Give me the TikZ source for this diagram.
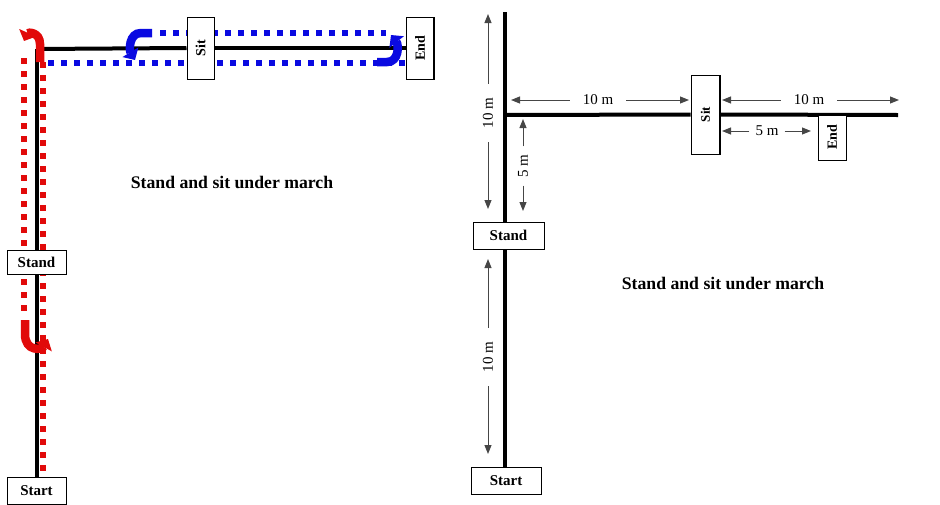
\documentclass[tikz,border=0pt]{standalone}
\usepackage{fontspec}
\setmainfont{Liberation Serif}
\usetikzlibrary{arrows.meta}
\definecolor{rd}{RGB}{225,10,10}
\definecolor{bl}{RGB}{10,10,225}
\definecolor{dimgray}{RGB}{70,70,70}
\tikzset{
  track/.style={line width=4pt,black},
  box/.style={draw,fill=white,line width=1pt,inner sep=0pt,font=\bfseries},
  rdots/.style={rd,line width=6pt,dash pattern=on 6pt off 7pt},
  bdots/.style={bl,line width=6pt,dash pattern=on 6pt off 7pt},
  turnR/.style={rd,line width=8.5pt,-{Triangle[length=9pt,width=18pt]}},
  turnB/.style={bl,line width=8.5pt,-{Triangle[length=9pt,width=18pt]}},
  dim/.style={dimgray,line width=1pt,-{Triangle[length=9pt,width=7pt]}},
  dimlab/.style={font=\fontsize{15}{15}\selectfont,inner sep=0pt},
  title/.style={font=\fontsize{17.7}{18}\selectfont\bfseries}
}
\begin{document}
\begin{tikzpicture}[x=1pt,y=-1pt]
\useasboundingbox (0,0) rectangle (940,504);
% ---------------- left diagram ----------------
\coordinate (Lc) at (37,49);
\node[box,minimum width=59,minimum height=24,font=\fontsize{15}{15}\selectfont\bfseries] (Lstand) at (36.5,262) {Stand};
\node[box,minimum width=59,minimum height=27,font=\fontsize{15}{15}\selectfont\bfseries] (Lstart) at (36.5,491) {Start};
\node[box,rotate=90,minimum width=62,minimum height=27,font=\fontsize{14}{14}\selectfont\bfseries] (Lsit) at (200.5,48) {Sit};
\node[box,rotate=90,minimum width=62,minimum height=28,font=\fontsize{14}{14}\selectfont\bfseries] (Lend) at (420,48) {End};
\draw[track] (Lc) -- (Lstart.north -| Lc);
\draw[track] (Lc) -- (Lsit.north);
\draw[track] (Lsit.south) -- (Lend.north);
% dotted paths
\draw[rdots] (24,58) -- (24,314);
\draw[rdots] (43,62) -- (43,474);
\draw[bdots] (160,33) -- (386,33);
\draw[bdots] (48,63) -- (405,63);
% boxes on top
\node[box,minimum width=59,minimum height=24,font=\fontsize{15}{15}\selectfont\bfseries] at (Lstand) {Stand};
\node[box,minimum width=59,minimum height=27,font=\fontsize{15}{15}\selectfont\bfseries] at (Lstart) {Start};
\node[box,rotate=90,minimum width=62,minimum height=27,font=\fontsize{14}{14}\selectfont\bfseries] at (Lsit) {Sit};
\node[box,rotate=90,minimum width=62,minimum height=28,font=\fontsize{14}{14}\selectfont\bfseries] at (Lend) {End};
\draw[line width=2.5pt] (434,17) -- (434,79);
% turn arrows
\draw[turnR] (40,62) -- (40,44) .. controls (40,32) and (28,32) .. (24,41);
\draw[turnR] (25,320) -- (25,334) .. controls (25,352) and (42,350) .. (48,339);
\draw[turnB] (152,33) -- (141,33) .. controls (129,33) and (129,50) .. (135,60);
\draw[turnB] (377,62) -- (387,62) .. controls (399,62) and (399,45) .. (391,35);
\node[title] (Ltitle) at (232,182) {Stand and sit under march};
% ---------------- right diagram ----------------
\coordinate (Rtop) at (505,12);
\coordinate (Rc) at (505,115);
\coordinate (Rend) at (898,115);
\node[box,minimum width=71,minimum height=27,font=\fontsize{15}{15}\selectfont\bfseries] (Rstand) at (508.5,235.5) {Stand};
\node[box,minimum width=70,minimum height=27,font=\fontsize{15}{15}\selectfont\bfseries] (Rstart) at (506,480.5) {Start};
\node[box,rotate=90,minimum width=79,minimum height=29,font=\fontsize{13}{13}\selectfont\bfseries] (Rsit) at (705.5,114.5) {Sit};
\draw[track] (Rtop) -- (Rstand.north -| Rtop);
\draw[track] (Rstand.south -| Rtop) -- (Rstart.north -| Rtop);
\draw[track] (Rc) -- (Rsit.north);
\draw[track] (Rsit.south) -- (Rend);
\node[box,rotate=90,minimum width=45,minimum height=28,font=\fontsize{14}{14}\selectfont\bfseries] (Rendbox) at (832,137.5) {End};
\node[box,rotate=90,minimum width=79,minimum height=29,font=\fontsize{13}{13}\selectfont\bfseries] at (Rsit) {Sit};
\draw[line width=1.8pt] (720,75) -- (720,154);
% dimensions
\node[dimlab,rotate=90] (d1) at (488,113) {10 m};
\draw[dim] (d1.east) ++(0,-14) -- (488,14);
\draw[dim] (d1.west) ++(0,14) -- (488,209);
\node[dimlab,rotate=90] (d2) at (523,166) {5 m};
\draw[dim] (d2.east) ++(0,-8) -- (523,119);
\draw[dim] (d2.west) ++(0,8) -- (523,211);
\node[dimlab] (d3) at (598,100) {10 m};
\draw[dim] (d3.west) ++(-13,0) -- (511,100);
\draw[dim] (d3.east) ++(13,0) -- (689,100);
\node[dimlab] (d4) at (809,100) {10 m};
\draw[dim] (d4.west) ++(-13,0) -- (722,100);
\draw[dim] (d4.east) ++(13,0) -- (899,100);
\node[dimlab] (d5) at (767,131) {5 m};
\draw[dim] (d5.west) ++(-6,0) -- (722,131);
\draw[dim] (d5.east) ++(6,0) -- (811,131);
\node[dimlab,rotate=90] (d6) at (488,357) {10 m};
\draw[dim] (d6.east) ++(0,-14) -- (488,259);
\draw[dim] (d6.west) ++(0,14) -- (488,454);
\node[title] (Rtitle) at (723,283) {Stand and sit under march};
\end{tikzpicture}
\end{document}
